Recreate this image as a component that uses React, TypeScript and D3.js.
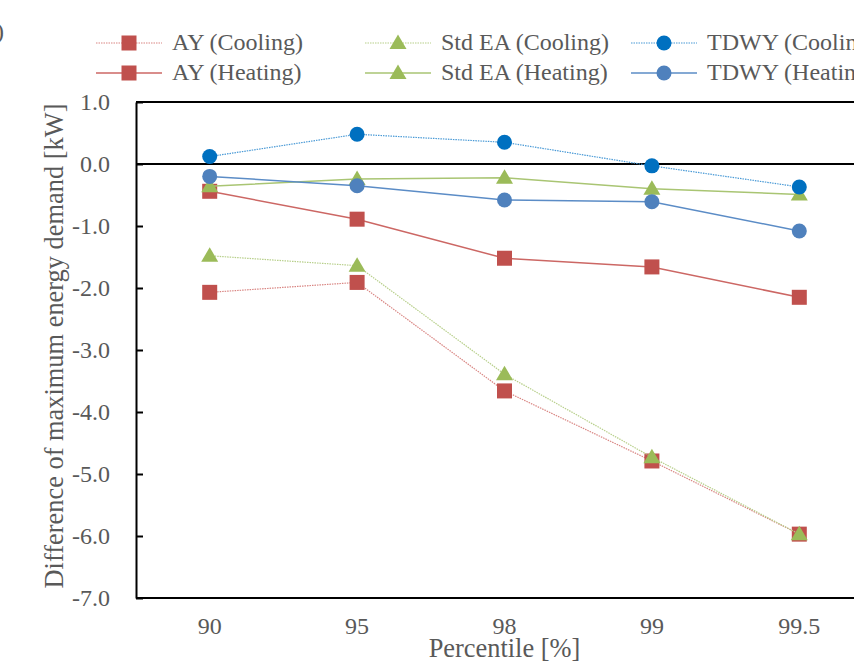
import * as d3 from "d3";
import { FC, useEffect, useRef } from "react";

const CATEGORIES: string[] = ["90", "95", "98", "99", "99.5"];
const AY_COOLING: number[] = [-2.07, -1.91, -3.66, -4.79, -5.97];
const AY_HEATING: number[] = [-0.44, -0.89, -1.52, -1.66, -2.15];
const STD_COOLING: number[] = [-1.48, -1.64, -3.39, -4.73, -5.97];
const STD_HEATING: number[] = [-0.36, -0.24, -0.22, -0.4, -0.49];
const TDWY_COOLING: number[] = [0.12, 0.48, 0.35, -0.03, -0.37];
const TDWY_HEATING: number[] = [-0.2, -0.35, -0.58, -0.61, -1.08];
const Y_TICKS: number[] = [1, 0, -1, -2, -3, -4, -5, -6, -7];

type Marker = "square" | "triangle" | "circle";
interface Series {
  name: string;
  values: number[];
  color: string;
  lineColor: string;
  dotted: boolean;
  marker: Marker;
}

const SERIES: Series[] = [
  { name: "AY (Cooling)", values: AY_COOLING, color: "#C0504D", lineColor: "#D98683", dotted: true, marker: "square" },
  { name: "AY (Heating)", values: AY_HEATING, color: "#C0504D", lineColor: "#CC6764", dotted: false, marker: "square" },
  { name: "Std EA (Cooling)", values: STD_COOLING, color: "#9BBB59", lineColor: "#B7CF8A", dotted: true, marker: "triangle" },
  { name: "Std EA (Heating)", values: STD_HEATING, color: "#9BBB59", lineColor: "#A9C573", dotted: false, marker: "triangle" },
  { name: "TDWY (Cooling)", values: TDWY_COOLING, color: "#0070C0", lineColor: "#4A9AD6", dotted: true, marker: "circle" },
  { name: "TDWY (Heating)", values: TDWY_HEATING, color: "#4F81BD", lineColor: "#5B8CC6", dotted: false, marker: "circle" },
];

const W = 854;
const H = 662;
const FONT = "Liberation Serif, Times New Roman, serif";
const TEXT = "#595959";

const drawMarker = (
  g: d3.Selection<SVGGElement, unknown, null, undefined>,
  kind: Marker,
  x: number,
  y: number,
  color: string
) => {
  if (kind === "square") {
    g.append("rect")
      .attr("x", x - 7.5)
      .attr("y", y - 7.5)
      .attr("width", 15)
      .attr("height", 15)
      .attr("fill", color);
  } else if (kind === "circle") {
    g.append("circle").attr("cx", x).attr("cy", y).attr("r", 7.5).attr("fill", color);
  } else {
    g.append("path")
      .attr("d", `M${x},${y - 8.5}L${x + 8.5},${y + 6}L${x - 8.5},${y + 6}Z`)
      .attr("fill", color);
  }
};

const App: FC = () => {
  const ref = useRef<SVGSVGElement | null>(null);

  useEffect(() => {
    if (!ref.current) return;
    const svg = d3.select(ref.current);
    svg.selectAll("*").remove();

    const left = 136;
    const right = 873;
    const top = 102;
    const bottom = 598;

    const x = d3.scaleBand<string>().domain(CATEGORIES).range([left, right]);
    const cx = (c: string) => (x(c) ?? 0) + x.bandwidth() / 2;
    const y = d3.scaleLinear().domain([-7, 1]).range([bottom, top]);

    // plot frame: top border + zero line
    [top, y(0)].forEach((yy) => {
      svg
        .append("line")
        .attr("x1", left).attr("x2", W + 10)
        .attr("y1", yy).attr("y2", yy)
        .attr("stroke", "#000").attr("stroke-width", 2);
    });

    // y axis
    const yAxis = svg
      .append("g")
      .attr("transform", `translate(${left},0)`)
      .call(
        d3
          .axisLeft(y)
          .tickValues(Y_TICKS)
          .tickSizeInner(-7)
          .tickSizeOuter(0)
          .tickPadding(26)
          .tickFormat((d) => d3.format(".1f")(d as number).replace("−", "-"))
      );
    yAxis.attr("font-family", FONT).attr("font-size", 24);
    yAxis.select(".domain").attr("stroke", "#000").attr("stroke-width", 2);
    yAxis.selectAll(".tick line").attr("stroke", "#000").attr("stroke-width", 2);
    yAxis.selectAll(".tick text").attr("fill", TEXT);

    // x axis
    const xAxis = svg
      .append("g")
      .attr("transform", `translate(0,${bottom})`)
      .call(d3.axisBottom(x).tickSize(0));
    xAxis.attr("font-family", FONT).attr("font-size", 24);
    xAxis
      .select(".domain")
      .attr("d", `M${left},0H${W + 10}`)
      .attr("stroke", "#000")
      .attr("stroke-width", 2);
    xAxis
      .selectAll(".tick text")
      .attr("fill", TEXT)
      .attr("y", 36)
      .attr("dy", null);

    svg
      .append("text")
      .attr("x", (left + right) / 2)
      .attr("y", 657)
      .attr("text-anchor", "middle")
      .attr("fill", TEXT)
      .attr("font-family", FONT)
      .attr("font-size", 26.4)
      .text("Percentile [%]");

    svg
      .append("text")
      .attr("transform", `translate(63,346) rotate(-90)`)
      .attr("text-anchor", "middle")
      .attr("fill", TEXT)
      .attr("font-family", FONT)
      .attr("font-size", 26.4)
      .text("Difference of maximum energy demand [kW]");

    svg
      .append("text")
      .attr("x", 4)
      .attr("y", 39)
      .attr("text-anchor", "end")
      .attr("fill", TEXT)
      .attr("font-family", FONT)
      .attr("font-size", 24)
      .text("(a)");

    // series
    const line = d3
      .line<number>()
      .x((_, i) => cx(CATEGORIES[i]))
      .y((d) => y(d));

    SERIES.forEach((s) => {
      const g = svg.append("g");
      g.append("path")
        .attr("d", line(s.values))
        .attr("fill", "none")
        .attr("stroke", s.lineColor)
        .attr("stroke-width", s.dotted ? 1.2 : 1.5)
        .attr("stroke-dasharray", s.dotted ? "1.5,1" : null);
      s.values.forEach((v, i) => drawMarker(g, s.marker, cx(CATEGORIES[i]), y(v), s.color));
    });

    // legend, two rows by three columns
    const colX = [96, 365, 631];
    const rowY = [43, 73];
    SERIES.forEach((s, i) => {
      const lx = colX[Math.floor(i / 2)];
      const ly = rowY[i % 2];
      const g = svg.append("g");
      g.append("line")
        .attr("x1", lx).attr("x2", lx + 66)
        .attr("y1", ly).attr("y2", ly)
        .attr("stroke", s.lineColor)
        .attr("stroke-width", s.dotted ? 1.2 : 1.5)
        .attr("stroke-dasharray", s.dotted ? "1.5,1" : null);
      drawMarker(g, s.marker, lx + 33, ly, s.color);
      g.append("text")
        .attr("x", lx + 76)
        .attr("y", ly + 7)
        .attr("fill", TEXT)
        .attr("font-family", FONT)
        .attr("font-size", 24)
        .text(s.name);
    });
  }, []);

  return (
    <svg
      ref={ref}
      width={W}
      height={H}
      style={{ position: "absolute", left: 0, top: 0, background: "#fff" }}
    />
  );
};

export default App;
